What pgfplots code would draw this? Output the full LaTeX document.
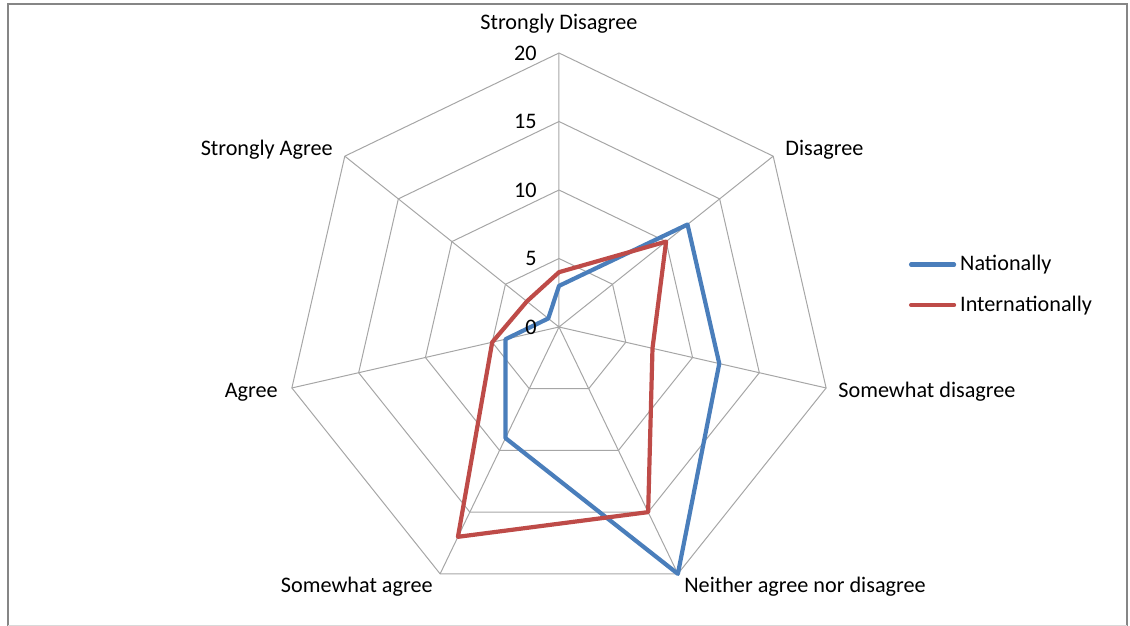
\documentclass[border=0pt]{standalone}
\usepackage{pgfplots}
\pgfplotsset{compat=1.18}
\usepackage{fontspec}
\setmainfont{Carlito}
\definecolor{natblue}{HTML}{4A7EBB}
\definecolor{intred}{HTML}{BE4B48}
\definecolor{gridgray}{HTML}{A6A6A6}
\definecolor{framegray}{HTML}{868686}
\begin{document}
\begin{tikzpicture}[font=\fontsize{11.1}{13}\selectfont]
\begin{axis}[anchor=origin, at={(0,0)}, x=6.85pt, y=6.85pt,
  xmin=-20, xmax=20, ymin=-20, ymax=20, hide axis, clip=false,
  legend style={at={(1.127,0.577)}, anchor=west, draw=none, fill=none,
    font=\fontsize{11.1}{13}\selectfont, legend cell align=left, row sep=7pt},
  legend image code/.code={\draw[#1] (0pt,0pt) -- (21.5pt,0pt);},
  gridline/.style={gridgray, line width=0.5pt, forget plot, data cs=polar},
]
\addplot[gridline] coordinates {(90,5) (38.571,5) (-12.857,5) (-64.286,5) (-115.714,5) (-167.143,5) (141.429,5) (90,5)};
\addplot[gridline] coordinates {(90,10) (38.571,10) (-12.857,10) (-64.286,10) (-115.714,10) (-167.143,10) (141.429,10) (90,10)};
\addplot[gridline] coordinates {(90,15) (38.571,15) (-12.857,15) (-64.286,15) (-115.714,15) (-167.143,15) (141.429,15) (90,15)};
\addplot[gridline] coordinates {(90,20) (38.571,20) (-12.857,20) (-64.286,20) (-115.714,20) (-167.143,20) (141.429,20) (90,20)};
\addplot[gridline] coordinates {(90,20) (0,0) (38.571,20) (0,0) (-12.857,20) (0,0) (-64.286,20) (0,0) (-115.714,20) (0,0) (-167.143,20) (0,0) (141.429,20)};
\addplot[natblue, line width=2.1pt, line join=round, line cap=round, data cs=polar] coordinates {(90,3) (38.571,12) (-12.857,12) (-64.286,20) (-115.714,9) (-167.143,4) (141.429,1) (90,3)};
\addlegendentry{Nationally}
\addplot[intred, line width=2.1pt, line join=round, line cap=round, data cs=polar] coordinates {(90,4) (38.571,10) (-12.857,7) (-64.286,15) (-115.714,17) (-167.143,5) (141.429,3) (90,4)};
\addlegendentry{Internationally}
\end{axis}
\begin{scope}[every node/.style={inner sep=0pt}]
\node[anchor=center] at (0,151.5pt) {Strongly Disagree};
\node[anchor=west] at (113pt,88.5pt) {Disagree};
\node[anchor=west] at (139.5pt,-32.5pt) {Somewhat disagree};
\node[anchor=west] at (62.5pt,-130pt) {Neither agree nor disagree};
\node[anchor=east] at (-63pt,-130pt) {Somewhat agree};
\node[anchor=east] at (-140.5pt,-32.5pt) {Agree};
\node[anchor=east] at (-113pt,88.5pt) {Strongly Agree};
\node[anchor=east] at (-11pt,137pt) {20};
\node[anchor=east] at (-11pt,102.75pt) {15};
\node[anchor=east] at (-11pt,68.5pt) {10};
\node[anchor=east] at (-11pt,34.25pt) {5};
\node[anchor=east] at (-11pt,0pt) {0};
\end{scope}
\draw[framegray, line width=1pt] (-275.25pt,-149.5pt) -- (-275.25pt,161.5pt) -- (284pt,161.5pt) -- (284pt,-149.5pt);
\draw[gray!30, line width=0.5pt] (-275.25pt,-149pt) -- (284pt,-149pt);
\pgfresetboundingbox
\path (-279.5pt,163.5pt) rectangle (285.5pt,-149.5pt);
\end{tikzpicture}
\end{document}
